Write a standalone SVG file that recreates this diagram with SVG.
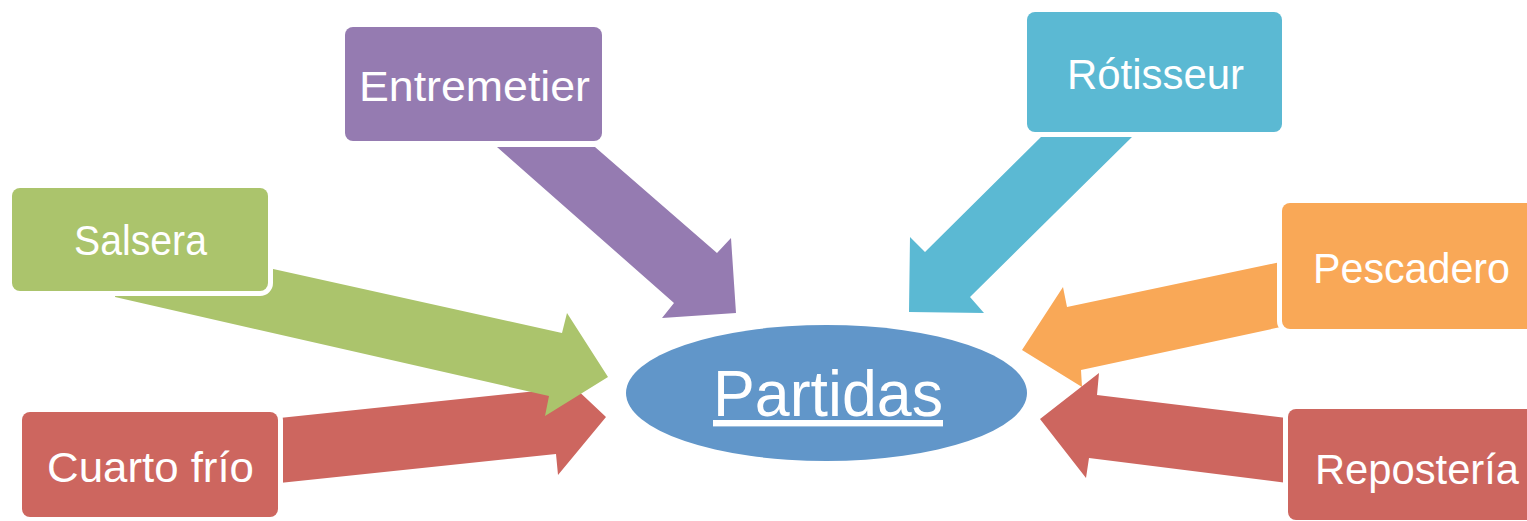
<svg xmlns="http://www.w3.org/2000/svg" width="1527" height="521" viewBox="0 0 1527 521">
<style>
.box{stroke:#ffffff;stroke-width:10;paint-order:stroke}
.lbl{font-family:"Liberation Sans",Arial,sans-serif;font-size:42px;fill:#ffffff}
.purple{fill:#957BB1}
.cyan{fill:#5BB9D3}
.green{fill:#ABC46C}
.orange{fill:#F9A857}
.red{fill:#CD665F}
</style>
<rect width="1527" height="521" fill="#ffffff"/>
<g id="connectors">
<polygon class="purple" points="497,147 595,147 717,253 731,238 736,313 662,318 674,303"/>
<polygon class="cyan" points="1042,136 1133,136 970,297 984,313 909,312 910,237 925,252"/>
<polygon class="red" points="270,419 556,389 554,368 606,417 558,475 556,454 270,484"/>
<polygon class="green" points="128,237 562,333 567,313 608,377 545,416 549,396 115,297"/>
<polygon class="orange" points="1290,260 1067,307 1063,287 1022,350 1082,387 1081,370 1290,325"/>
<polygon class="red" points="1295,419 1097,395 1099,373 1040,419 1086,478 1089,458 1295,484"/>
</g>
<g id="entremetier">
<rect class="box purple" x="345" y="27" width="257" height="114" rx="8"/>
<text class="lbl" x="359" y="101" textLength="231" lengthAdjust="spacingAndGlyphs">Entremetier</text>
</g>
<g id="rotisseur">
<rect class="box cyan" x="1027" y="12" width="255" height="120" rx="8"/>
<text class="lbl" x="1067" y="89" textLength="177" lengthAdjust="spacingAndGlyphs">Rótisseur</text>
</g>
<g id="salsera">
<rect class="box green" x="12" y="188" width="256" height="103" rx="8"/>
<text class="lbl" x="74" y="255" textLength="133" lengthAdjust="spacingAndGlyphs">Salsera</text>
</g>
<g id="cuarto-frio">
<rect class="box red" x="22" y="412" width="256" height="105" rx="8"/>
<text class="lbl" x="47" y="482" textLength="207" lengthAdjust="spacingAndGlyphs">Cuarto frío</text>
</g>
<g id="pescadero">
<rect class="box orange" x="1282" y="203" width="256" height="126" rx="8"/>
<text class="lbl" x="1313" y="283" textLength="197" lengthAdjust="spacingAndGlyphs">Pescadero</text>
</g>
<g id="reposteria">
<rect class="box red" x="1288" y="409" width="256" height="111" rx="8"/>
<text class="lbl" x="1315" y="484" textLength="204" lengthAdjust="spacingAndGlyphs">Repostería</text>
</g>
<g id="partidas">
<ellipse cx="826.5" cy="393" rx="200.5" ry="68" fill="#6196C9"/>
<text x="713" y="416" font-family="'Liberation Sans',Arial,sans-serif" font-size="64" fill="#ffffff" text-decoration="underline" textLength="230" lengthAdjust="spacingAndGlyphs">Partidas</text>
</g>
</svg>
